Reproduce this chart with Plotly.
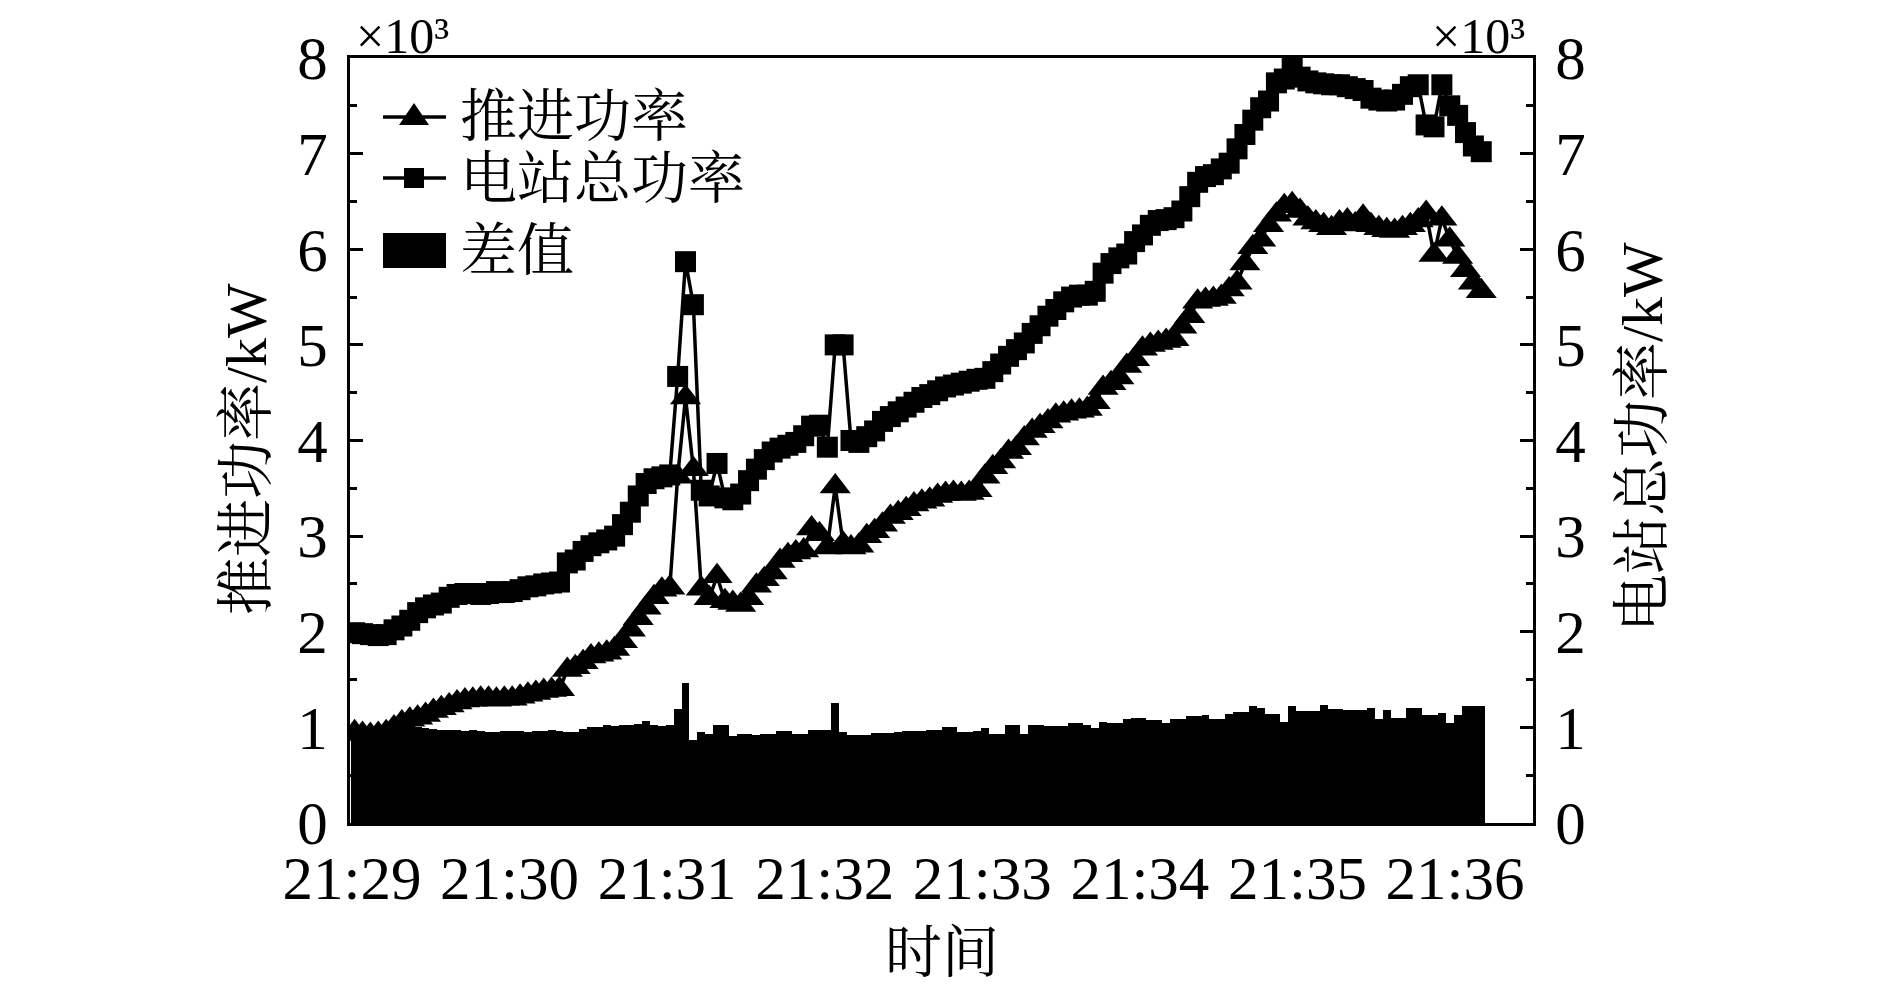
import pandas as pd
import plotly.graph_objects as go

# readings every 3 s from 21:29:01 (kW)
total_kw = [
    1990, 1980, 1970, 1960, 1970, 2020, 2060, 2120, 2200, 2250, 2280, 2300, 2360, 2390, 2400, 2400, 2390, 2400, 2420, 2410,
    2420, 2440, 2470, 2480, 2500, 2510, 2520, 2720, 2750, 2840, 2900, 2930, 2960, 3000, 3120, 3250, 3420, 3550, 3600, 3620,
    3640, 4670, 5870, 5420, 3480, 3420, 3760, 3400, 3380, 3440, 3580, 3700, 3800, 3880, 3920, 3950, 3980, 4050, 4150, 4160,
    3930, 5000, 5000, 4000, 3980, 4040, 4100, 4200, 4250, 4300, 4350, 4400, 4450, 4480, 4520, 4560, 4580, 4600, 4620, 4640,
    4650, 4720, 4800, 4880, 4950, 5020, 5120, 5200, 5300, 5370, 5450, 5500, 5520, 5520, 5560, 5750, 5850, 5910, 5950, 6080,
    6150, 6250, 6300, 6310, 6330, 6400, 6550, 6700, 6760, 6780, 6840, 6900, 7050, 7200, 7350, 7480, 7550, 7740, 7780, 7920,
    7800, 7760, 7740, 7730, 7720, 7720, 7700, 7680, 7660, 7580, 7560, 7550, 7560, 7620, 7700, 7720, 7300, 7280, 7720, 7500,
    7400, 7220, 7080, 7020,
]

prop_kw = [
    950, 930, 920, 930, 950, 1000, 1050, 1080, 1100, 1130, 1170, 1200, 1230, 1260, 1280, 1290, 1300, 1300, 1290, 1300,
    1300, 1320, 1340, 1360, 1380, 1390, 1400, 1600, 1630, 1680, 1740, 1760, 1780, 1820, 1900, 2020, 2140, 2250, 2360, 2440,
    2460, 3620, 4450, 3700, 2450, 2350, 2580, 2320, 2300, 2280, 2350, 2480, 2550, 2620, 2740, 2800, 2830, 2850, 3080, 3020,
    2880, 3520, 2920, 2880, 2900, 3000, 3050, 3120, 3200, 3240, 3280, 3330, 3360, 3380, 3420, 3440, 3450, 3440, 3450, 3480,
    3620, 3720, 3780, 3880, 3920, 4020, 4100, 4150, 4200, 4260, 4280, 4300, 4310, 4330, 4400, 4550, 4600, 4660, 4780, 4850,
    4960, 5000, 5020, 5040, 5060, 5190, 5300, 5450, 5470, 5480, 5500, 5580, 5650, 5850, 6020, 6100, 6250, 6360, 6450, 6470,
    6400, 6320, 6280, 6250, 6220, 6280, 6300, 6260, 6340, 6250, 6220, 6200, 6190, 6220, 6250, 6300, 6380, 5940, 6320, 6100,
    5920, 5780, 5650, 5560,
]

diff_kw = [
    1020, 1020, 1000, 1000, 990, 990, 1000, 1000, 1000, 990, 980, 970, 970, 970, 960, 970, 960, 950, 950, 960,
    960, 960, 950, 960, 960, 970, 960, 950, 950, 980, 1000, 1000, 1020, 1010, 1020, 1030, 1040, 1070, 1020, 1010,
    1020, 1190, 1460, 870, 950, 930, 1020, 1020, 910, 930, 930, 920, 930, 930, 960, 960, 930, 930, 970, 970,
    970, 1260, 950, 920, 920, 920, 940, 940, 940, 950, 960, 960, 960, 970, 970, 1000, 1000, 950, 950, 960,
    990, 930, 930, 1020, 1020, 930, 1020, 1020, 1010, 1010, 1010, 1050, 1050, 1020, 990, 1060, 1050, 1050, 1090, 1100,
    1100, 1080, 1080, 1050, 1090, 1090, 1120, 1120, 1130, 1090, 1090, 1140, 1160, 1160, 1220, 1200, 1140, 1140, 1060, 1220,
    1170, 1170, 1170, 1230, 1190, 1190, 1180, 1180, 1180, 1200, 1090, 1180, 1100, 1100, 1200, 1200, 1130, 1130, 1150, 1050,
    1130, 1220, 1220, 1220,
]

time_labels = ["21:29", "21:30", "21:31", "21:32", "21:33", "21:34", "21:35", "21:36"]
y_ticks = [0, 1000, 2000, 3000, 4000, 5000, 6000, 7000, 8000]
y_labels = ["0", "1", "2", "3", "4", "5", "6", "7", "8"]

day = "2023-06-01 "
times = pd.date_range(day + "21:29:01", periods=len(total_kw), freq="3s")
minute_ticks = [pd.Timestamp(day + t) for t in time_labels]

SERIF = "Liberation Serif, Times New Roman, serif"
CJK = "Liberation Serif, Noto Serif CJK SC, Noto Sans CJK SC, sans-serif"

# plot area in page pixels (the page body adds an 8 px offset)
PAGE_OFF = 8
FIG_W, FIG_H = 1890 - 2 * PAGE_OFF, 992 - 2 * PAGE_OFF
L, R, T, B = 350, 1533, 58, 823
W, H = R - L, B - T


def px(x):
    return (x - L) / W


def py(y):
    return (B - y) / H


fig = go.Figure()

fig.add_trace(go.Bar(
    x=times, y=diff_kw, width=3000,
    marker=dict(color="black", line=dict(width=0)),
    name="差值", showlegend=False,
))
fig.add_trace(go.Scatter(
    x=times, y=prop_kw, mode="lines+markers",
    line=dict(color="black", width=3.5),
    marker=dict(symbol="triangle-up", size=27, color="black"),
    name="推进功率", showlegend=False,
))
fig.add_trace(go.Scatter(
    x=times, y=total_kw, mode="lines+markers", yaxis="y2",
    line=dict(color="black", width=3.5),
    marker=dict(symbol="square", size=21, color="black"),
    name="电站总功率", showlegend=False,
))

ytick_style = dict(
    range=[0, 8000], tickvals=y_ticks, ticktext=y_labels,
    ticks="inside", ticklen=13, tickwidth=3, tickcolor="black",
    minor=dict(dtick=500, tick0=0, ticks="inside", ticklen=7, tickwidth=3, tickcolor="black"),
    showgrid=False, zeroline=False, showline=True, linewidth=3, linecolor="black",
    tickfont=dict(family=SERIF, size=61, color="black"),
    ticklabelstandoff=7,
)

fig.update_layout(
    width=FIG_W, height=FIG_H,
    margin=dict(l=L - PAGE_OFF, r=FIG_W - (R - PAGE_OFF), t=T - PAGE_OFF, b=FIG_H - (B - PAGE_OFF)),
    plot_bgcolor="white", paper_bgcolor="white",
    bargap=0, barmode="overlay",
    showlegend=False,
    xaxis=dict(
        type="date",
        range=[day + "21:28:59.24", day + "21:36:29.7"],
        tickvals=minute_ticks, ticktext=time_labels,
        ticks="", showgrid=False, zeroline=False,
        showline=True, linewidth=3, linecolor="black", mirror=True,
        tickfont=dict(family=SERIF, size=61, color="black"),
        ticklabelstandoff=0,
    ),
    # tick marks on top and bottom edges follow their own spacing in the original
    xaxis2=dict(
        overlaying="x", anchor="y", side="bottom",
        range=[0, W], tick0=63, dtick=94.5,
        ticks="inside", ticklen=13, tickwidth=3, tickcolor="black",
        minor=dict(dtick=47.25, ticks="inside", ticklen=7, tickwidth=3, tickcolor="black"),
        showticklabels=False, showgrid=False, zeroline=False,
        showline=True, linewidth=3, linecolor="black", mirror="ticks",
    ),
    yaxis=dict(side="left", **ytick_style),
    yaxis2=dict(side="right", overlaying="y", anchor="x", **ytick_style),
)

annotations = [
    dict(text="时间", x=0.5, y=py(952), font=dict(family=CJK, size=57)),
    dict(text="推进功率/kW", x=px(247), y=py(449), textangle=-90, font=dict(family=CJK, size=58)),
    dict(text="电站总功率/kW", x=px(1642), y=py(437), textangle=-90, font=dict(family=CJK, size=58)),
    dict(text="×10³", x=px(354), y=py(36), xanchor="left", font=dict(family=SERIF, size=50)),
    dict(text="×10³", x=px(1527), y=py(36), xanchor="right", font=dict(family=SERIF, size=50)),
    dict(text="推进功率", x=px(458), y=py(117), xanchor="left", font=dict(family=CJK, size=57)),
    dict(text="电站总功率", x=px(458), y=py(178), xanchor="left", font=dict(family=CJK, size=57)),
    dict(text="差值", x=px(458), y=py(250), xanchor="left", font=dict(family=CJK, size=57)),
]
for a in annotations:
    a.setdefault("xanchor", "center")
    a["font"]["color"] = "black"
    fig.add_annotation(xref="paper", yref="paper", yanchor="middle", showarrow=False, **a)

# hand-drawn legend keys
key_x0, key_x1, key_xc = px(383), px(446), px(414)
for yy in (117, 178):
    fig.add_shape(type="line", xref="paper", yref="paper",
                  x0=key_x0, x1=key_x1, y0=py(yy), y1=py(yy),
                  line=dict(color="black", width=3.5))
fig.add_shape(type="path", xref="paper", yref="paper",
              xsizemode="pixel", ysizemode="pixel", xanchor=key_xc, yanchor=py(117),
              path="M -15,-8 L 15,-8 L 0,14 Z", fillcolor="black", line=dict(width=0))
fig.add_shape(type="rect", xref="paper", yref="paper",
              xsizemode="pixel", ysizemode="pixel", xanchor=key_xc, yanchor=py(178),
              x0=-10, x1=10, y0=-10, y1=10, fillcolor="black", line=dict(width=0))
fig.add_shape(type="rect", xref="paper", yref="paper",
              x0=key_x0, x1=key_x1, y0=py(268), y1=py(233),
              fillcolor="black", line=dict(width=0))

fig.write_html("out.html")
